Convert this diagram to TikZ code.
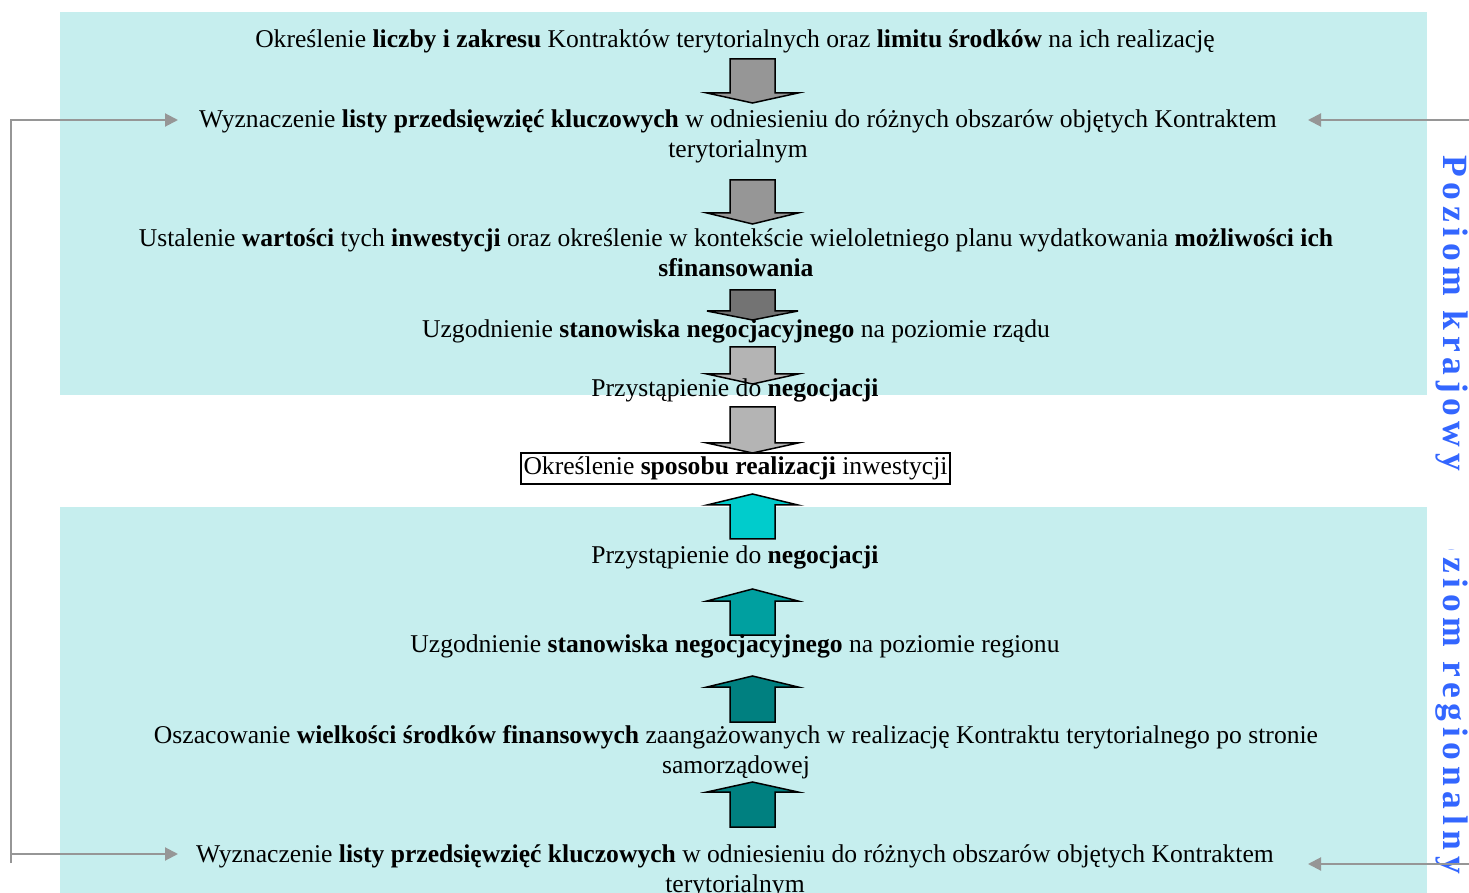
\documentclass[tikz,border=0pt]{standalone}
\usepackage{fontspec}
\setmainfont{Liberation Serif}
\usetikzlibrary{arrows.meta}
\definecolor{bgcyan}{RGB}{198,238,238}
\definecolor{conngray}{RGB}{150,150,150}
\definecolor{arrA}{RGB}{150,150,150}
\definecolor{arrB}{RGB}{115,115,115}
\definecolor{arrC}{RGB}{180,180,180}
\definecolor{upA}{RGB}{0,204,204}
\definecolor{upB}{RGB}{0,160,160}
\definecolor{upC}{RGB}{0,128,128}
\definecolor{vblue}{RGB}{51,102,255}
\newcommand\blockarrow[4]{\filldraw[blk, fill=#4] (730,#1) -- (775,#1) -- (775,#2) -- (798,#2) -- (752.5,#3) -- (707,#2) -- (730,#2) -- cycle;}
\begin{document}
\begin{tikzpicture}[x=0.5pt,y=-0.5pt,
  txt/.style={font=\fontsize{12.8}{15}\selectfont, align=center, inner sep=0pt, anchor=base},
  conn/.style={draw=conngray, line width=1pt, -{Triangle[length=6.5pt,width=6.5pt]}},
  blk/.style={draw=black, line width=0.75pt, line join=miter},
  vtext/.style={font=\fontsize{17.75}{20}\selectfont\bfseries\addfontfeature{LetterSpace=16}, text=vblue, inner sep=0pt, rotate=-90, anchor=base west}]
\useasboundingbox (0,0) rectangle (1469,893);
\fill[bgcyan] (60,12) rectangle (1427,395);
\fill[bgcyan] (60,507) rectangle (1427,893);
% block arrows
\blockarrow{59}{93}{103}{arrA}
\blockarrow{180}{213}{224}{arrA}
\blockarrow{290}{311}{320}{arrB}
\blockarrow{347}{374}{384}{arrC}
\blockarrow{407}{443}{453}{arrC}
\blockarrow{539}{505}{494}{upA}
\blockarrow{635}{601}{589}{upB}
\blockarrow{722}{687}{676}{upC}
\blockarrow{827}{792}{782}{upC}
% texts
\node[txt] (t1) at (735,48) {Określenie \textbf{liczby i zakresu} Kontraktów terytorialnych oraz \textbf{limitu środków} na ich realizację};
\node[txt] (w1) at (738,158) {Wyznaczenie \textbf{listy przedsięwzięć kluczowych} w odniesieniu do różnych obszarów objętych Kontraktem\\terytorialnym};
\node[txt] (u1) at (736,277) {Ustalenie \textbf{wartości} tych \textbf{inwestycji} oraz określenie w kontekście wieloletniego planu wydatkowania \textbf{możliwości ich}\\\textbf{sfinansowania}};
\node[txt] (g1) at (736,338) {Uzgodnienie \textbf{stanowiska negocjacyjnego} na poziomie rządu};
\node[txt] (p1) at (735,397) {Przystąpienie do \textbf{negocjacji}};
\node[txt, anchor=center, draw=black, fill=white, line width=0.75pt, minimum width=214.5pt, minimum height=15.5pt] (box) at (735.5,468.5) {Określenie \textbf{sposobu realizacji} inwestycji};
\node[txt] (p2) at (735,563) {Przystąpienie do \textbf{negocjacji}};
\node[txt] (g2) at (735,652) {Uzgodnienie \textbf{stanowiska negocjacyjnego} na poziomie regionu};
\node[txt] (o2) at (736,773) {Oszacowanie \textbf{wielkości środków finansowych} zaangażowanych w realizację Kontraktu terytorialnego po stronie\\samorządowej};
\node[txt] (w2) at (735,892) {Wyznaczenie \textbf{listy przedsięwzięć kluczowych} w odniesieniu do różnych obszarów objętych Kontraktem\\terytorialnym};
% vertical labels
\node[vtext] (pk) at (1443,155) {Poziom krajowy};
\begin{scope}
\clip (1425,549) rectangle (1469,893);
\node[vtext] (pr) at (1443,506) {Poziom regionalny};
\end{scope}
% connectors
\coordinate (lb) at (11,863);
\coordinate (lt) at (11,120);
\coordinate (lm) at (11,854);
\coordinate (tw1) at (178,120);
\coordinate (tw2) at (178,854);
\coordinate (r1) at (1469,120);
\coordinate (r2) at (1469,864);
\coordinate (tr1) at (1308,120);
\coordinate (tr2) at (1308,864);
\draw[conn] (lb) -- (lt) -- (tw1);
\draw[conn] (lm) -- (tw2);
\draw[conn] (r1) -- (tr1);
\draw[conn] (r2) -- (tr2);
\end{tikzpicture}
\end{document}
